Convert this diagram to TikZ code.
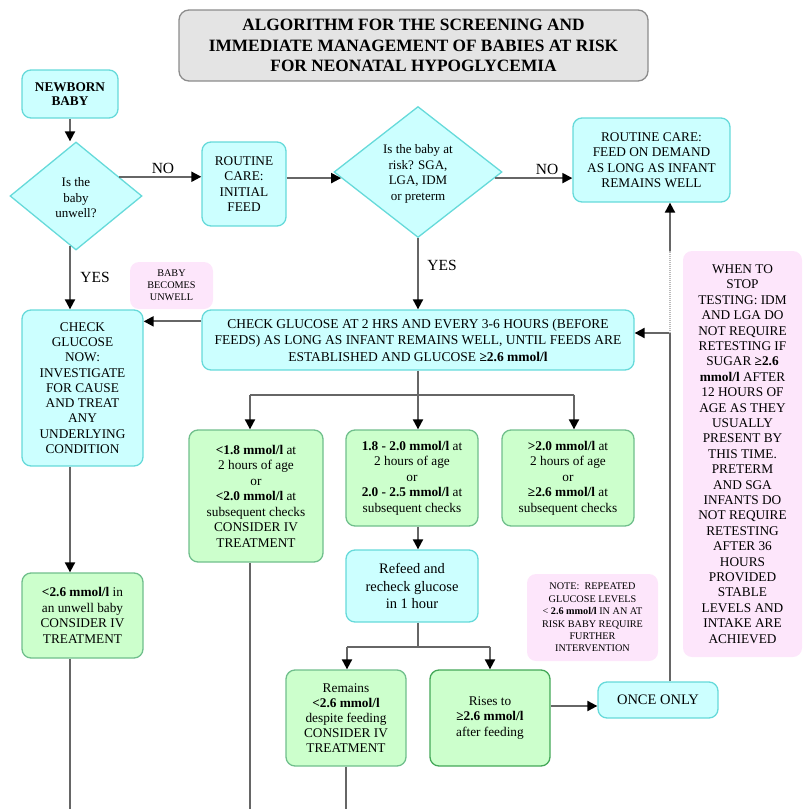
\documentclass[tikz,border=0pt]{standalone}
\usepackage{fontspec}
\setmainfont{Liberation Serif}
\usetikzlibrary{shapes.geometric,arrows.meta,calc}
\definecolor{cyanfill}{HTML}{CCFFFF}
\definecolor{cyanline}{HTML}{66DADA}
\definecolor{greenfill}{HTML}{CCFFCC}
\definecolor{greenline}{HTML}{70BF8C}
\definecolor{greendark}{HTML}{44A858}
\definecolor{pinkfill}{HTML}{FDE6FB}
\definecolor{greyfill}{HTML}{E4E4E4}
\definecolor{greyline}{HTML}{8C8C8C}
\definecolor{connc}{HTML}{666666}
\begin{document}
\begin{tikzpicture}[x=1pt,y=-1pt,
 box/.style={draw, rounded corners=9pt, line width=1.3pt, align=center, inner sep=0pt, text=black, font=\fontsize{13.3}{15.5}\selectfont},
 cbox/.style={box, draw=cyanline, fill=cyanfill},
 gbox/.style={box, draw=greenline, fill=greenfill},
 pbox/.style={box, draw=none, fill=pinkfill},
 dia/.style={diamond, draw=cyanline, fill=cyanfill, line width=1.3pt, inner sep=0pt},
 dtext/.style={align=center, inner sep=0pt, font=\fontsize{13}{15.5}\selectfont},
 conn/.style={draw=connc, line width=2pt},
 arr/.style={conn, -{Triangle[length=10pt,width=10pt,color=black]}},
 lab/.style={font=\fontsize{15.5}{18}\selectfont, inner sep=0pt},
]
\useasboundingbox (0,0) rectangle (812,809);
\coordinate (pagebottom) at (406,809);

% title
\node[box, draw=greyline, fill=greyfill, rounded corners=10pt, minimum width=469, minimum height=71,
  font=\bfseries\fontsize{17.3}{20.3}\selectfont] (title) at (413.5,45.5)
  {ALGORITHM FOR THE SCREENING AND\\IMMEDIATE MANAGEMENT OF BABIES AT RISK\\FOR NEONATAL HYPOGLYCEMIA};

% top row
\node[cbox, minimum width=96, minimum height=48, font=\bfseries\fontsize{13.3}{14.5}\selectfont] (nb) at (70,94) {NEWBORN\\BABY};
\node[dia, minimum width=132, minimum height=108] (d1) at (76,196) {};
\node[dtext] (d1t) at (76,198) {Is the\\baby\\unwell?};
\node[cbox, minimum width=84, minimum height=84] (rc1) at (244,184) {ROUTINE\\CARE:\\INITIAL\\FEED};
\node[dia, minimum width=168, minimum height=131] (d2) at (418,172) {};
\node[dtext] (d2t) at (418,174) {Is the baby at\\risk? SGA,\\LGA, IDM\\or preterm};
\node[cbox, minimum width=157, minimum height=84] (rc2) at (651.5,160)
  {ROUTINE CARE:\\FEED ON DEMAND\\AS LONG AS INFANT\\REMAINS WELL};

% labels
\node[lab] (no1) at (163,168) {NO};
\node[lab] (no2) at (547,169) {NO};
\node[lab] (yes1) at (95,277) {YES};
\node[lab] (yes2) at (442,265) {YES};

% middle
\node[pbox, minimum width=83, minimum height=47, font=\fontsize{10.2}{12}\selectfont] (bbu) at (171.5,285.5) {BABY\\BECOMES\\UNWELL};
\node[cbox, minimum width=121, minimum height=156, font=\fontsize{13.3}{15.3}\selectfont] (cgn) at (82.5,388)
  {CHECK\\GLUCOSE\\NOW:\\INVESTIGATE\\FOR CAUSE\\AND TREAT\\ANY\\UNDERLYING\\CONDITION};
\node[cbox, minimum width=432, minimum height=60, font=\fontsize{13.5}{16.5}\selectfont] (main) at (418,340)
  {CHECK GLUCOSE AT 2 HRS AND EVERY 3-6 HOURS (BEFORE\\FEEDS) AS LONG AS INFANT REMAINS WELL, UNTIL FEEDS ARE\\ESTABLISHED AND GLUCOSE \textbf{≥2.6 mmol/l}};

\node[gbox, minimum width=134, minimum height=132] (g1) at (256,496)
  {\textbf{<1.8 mmol/l} at\\2 hours of age\\or\\\textbf{<2.0 mmol/l} at\\subsequent checks\\CONSIDER IV\\TREATMENT};
\node[gbox, minimum width=132, minimum height=96] (g2) at (412,478)
  {\textbf{1.8 - 2.0 mmol/l} at\\2 hours of age\\or\\\textbf{2.0 - 2.5 mmol/l} at\\subsequent checks};
\node[gbox, minimum width=132, minimum height=96] (g3) at (568,478)
  {\textbf{>2.0 mmol/l} at\\2 hours of age\\or\\\textbf{≥2.6 mmol/l} at\\subsequent checks};

\node[cbox, minimum width=132, minimum height=72, font=\fontsize{14.5}{17.5}\selectfont] (refeed) at (412,586)
  {Refeed and\\recheck glucose\\in 1 hour};

\node[gbox, minimum width=121, minimum height=85] (gu) at (82.5,615.5)
  {\textbf{<2.6 mmol/l} in\\an unwell baby\\CONSIDER IV\\TREATMENT};

\node[pbox, minimum width=131, minimum height=87, font=\fontsize{10.2}{12.4}\selectfont] (note) at (592.5,617.5)
  {NOTE:\ \ REPEATED\\GLUCOSE LEVELS\\< \textbf{2.6 mmol/l} IN AN AT\\RISK BABY REQUIRE\\FURTHER\\INTERVENTION};

\node[pbox, minimum width=119, minimum height=406, font=\fontsize{13.3}{15.4}\selectfont] (stop) at (742.5,454)
  {WHEN TO\\STOP\\TESTING: IDM\\AND LGA DO\\NOT REQUIRE\\RETESTING IF\\SUGAR \textbf{≥2.6}\\\textbf{mmol/l} AFTER\\12 HOURS OF\\AGE AS THEY\\USUALLY\\PRESENT BY\\THIS TIME.\\PRETERM\\AND SGA\\INFANTS DO\\NOT REQUIRE\\RETESTING\\AFTER 36\\HOURS\\PROVIDED\\STABLE\\LEVELS AND\\INTAKE ARE\\ACHIEVED};

\node[gbox, minimum width=120, minimum height=96, font=\fontsize{13.3}{15}\selectfont] (rem) at (346,718)
  {Remains\\\textbf{<2.6 mmol/l}\\despite feeding\\CONSIDER IV\\TREATMENT};
\node[gbox, draw=greendark, minimum width=120, minimum height=96, font=\fontsize{13.3}{15.5}\selectfont] (rises) at (490,718)
  {Rises to\\\textbf{≥2.6 mmol/l}\\after feeding};
\node[cbox, minimum width=120, minimum height=36, font=\fontsize{14.5}{17}\selectfont] (once) at (658,700) {ONCE ONLY};

% helper coordinates
\coordinate (colL) at ($(d1.south)!0.09!(d1.west)$);
\coordinate (d1no) at ($(d1.north)!0.648!(d1.east)$);
\coordinate (d2in) at ($(d2.west)!0.092!(d2.south)$);
\coordinate (d2no) at ($(d2.east)!0.092!(d2.south)$);
\coordinate (mainout) at ($(main.north west)+(0,12)$);
\coordinate (br1) at ($(main.south)+(0,24)$);
\coordinate (br2) at ($(refeed.south)+(6,24)$);
\coordinate (onceup) at ([xshift=12pt]once.north);
\coordinate (mainin) at ([yshift=7pt]main.east);
\coordinate (jn) at (onceup |- mainin);
\coordinate (rc2in) at (onceup |- rc2.south);
\coordinate (dtop) at ($(rc2in)+(0,48)$);

% connectors
\draw[arr] (nb.south) -- (nb.south |- d1.north);
\draw[arr] (d1no) -- (d1no -| rc1.west);
\draw[arr] (d2in -| rc1.east) -- (d2in);
\draw[arr] (d2no) -- (d2no -| rc2.west);
\draw[arr] (colL) -- (colL |- cgn.north);
\draw[arr] (d2.south) -- (main.north);
\draw[arr] (mainout) -- (mainout -| cgn.east);

\draw[conn] (main.south) -- (br1);
\draw[conn] ([xshift=-6pt]g1.north |- br1) -- ([xshift=6pt]g3.north |- br1);
\draw[arr] ([xshift=-6pt]g1.north |- br1) -- ([xshift=-6pt]g1.north);
\draw[arr] (br1) -- (br1 |- g2.north);
\draw[arr] ([xshift=6pt]g3.north |- br1) -- ([xshift=6pt]g3.north);

\draw[arr] ([xshift=6pt]g2.south) -- ([xshift=6pt]refeed.north);
\draw[conn] ([xshift=6pt]refeed.south) -- (br2);
\draw[conn] ([xshift=1pt]rem.north |- br2) -- (rises.north |- br2);
\draw[arr] ([xshift=1pt]rem.north |- br2) -- ([xshift=1pt]rem.north);
\draw[arr] (rises.north |- br2) -- (rises.north);

\draw[arr] ([yshift=12pt]rises.east) -- ([yshift=12pt]rises.east -| once.west);
\draw[conn] (onceup) -- (jn);
\draw[arr] (jn) -- (mainin);
\draw[draw=connc!45, line width=2pt, dash pattern=on 1pt off 1pt] (jn) -- (dtop);
\draw[arr] (dtop) -- (rc2in);

\draw[arr] (colL |- cgn.south) -- (colL |- gu.north);
\draw[conn] (colL |- gu.south) -- (colL |- pagebottom);
\draw[conn] ([xshift=-6pt]g1.south) -- ([xshift=-6pt]g1.south |- pagebottom);
\draw[conn] (rem.south) -- (rem.south |- pagebottom);
\end{tikzpicture}
\end{document}
